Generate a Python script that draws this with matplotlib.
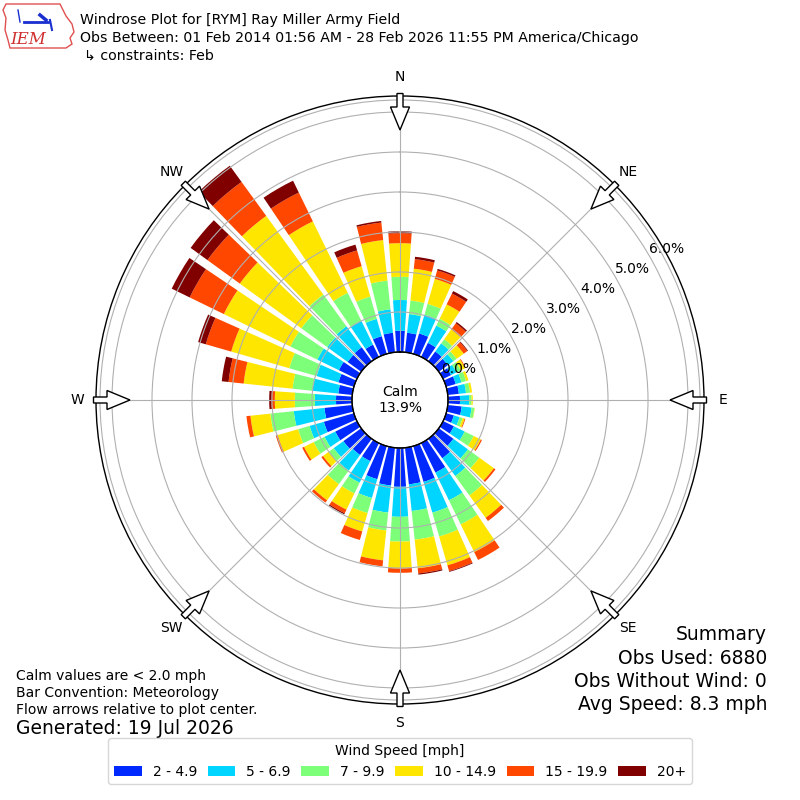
import numpy as np
import matplotlib
matplotlib.use("Agg")
import matplotlib.pyplot as plt
from matplotlib.patches import Patch, FancyArrow, Polygon

# ---------------- data ----------------
directions = list(range(10, 361, 10))
bin_labels = ["2 - 4.9", "5 - 6.9", "7 - 9.9", "10 - 14.9", "15 - 19.9", "20+"]

spd_2_5 = [0.49, 0.53, 0.39, 0.30, 0.28, 0.22, 0.25, 0.28, 0.30, 0.35, 0.20, 0.30,
           0.45, 0.60, 0.82, 0.93, 0.92, 0.97, 0.95, 0.86, 0.50, 0.50, 0.55, 0.60,
           0.78, 0.70, 0.40, 0.35, 0.40, 0.50, 0.42, 0.43, 0.34, 0.46, 0.49, 0.53]
spd_5_7 = [0.47, 0.49, 0.48, 0.25, 0.17, 0.15, 0.15, 0.18, 0.23, 0.25, 0.15, 0.30,
           0.45, 0.55, 0.77, 0.80, 0.67, 0.75, 0.68, 0.49, 0.60, 0.48, 0.30, 0.30,
           0.37, 0.77, 0.53, 0.65, 0.57, 0.60, 0.63, 0.65, 0.67, 0.45, 0.59, 0.77]
spd_7_10 = [0.34, 0.28, 0.19, 0.13, 0.10, 0.12, 0.12, 0.10, 0.06, 0.07, 0.08, 0.25,
            0.35, 0.60, 0.67, 0.62, 0.72, 0.62, 0.45, 0.39, 0.30, 0.42, 0.15, 0.30,
            0.30, 0.59, 0.50, 0.50, 0.71, 0.75, 0.80, 0.98, 0.77, 0.58, 0.72, 0.58]
spd_10_15 = [0.80, 0.65, 0.40, 0.30, 0.22, 0.12, 0.06, 0.05, 0.03, 0.01, 0.05, 0.20,
             0.45, 0.69, 0.77, 0.75, 0.72, 0.67, 0.75, 0.48, 0.45, 0.50, 0.18, 0.27,
             0.53, 0.50, 0.50, 1.23, 1.51, 1.85, 1.90, 2.43, 1.99, 0.79, 1.02, 0.84]
spd_15_20 = [0.24, 0.22, 0.30, 0.19, 0.11, 0.02, 0.00, 0.00, 0.00, 0.00, 0.02, 0.03,
             0.05, 0.10, 0.22, 0.15, 0.13, 0.11, 0.15, 0.22, 0.10, 0.07, 0.05, 0.05,
             0.05, 0.10, 0.08, 0.38, 0.66, 0.95, 1.00, 1.05, 0.80, 0.41, 0.44, 0.25]
spd_20p = [0.06, 0.04, 0.07, 0.04, 0.02, 0.00, 0.00, 0.00, 0.00, 0.00, 0.00, 0.00,
           0.00, 0.00, 0.00, 0.02, 0.03, 0.00, 0.00, 0.00, 0.03, 0.00, 0.00, 0.00,
           0.00, 0.00, 0.06, 0.17, 0.20, 0.50, 0.52, 0.50, 0.33, 0.15, 0.04, 0.05]
series = [spd_2_5, spd_5_7, spd_7_10, spd_10_15, spd_15_20, spd_20p]

calm_pct = 13.9
ring_values = [0, 1, 2, 3, 4, 5, 6]
ring_labels = ["0.0%", "1.0%", "2.0%", "3.0%", "4.0%", "5.0%", "6.0%"]
compass_deg = [0, 45, 90, 135, 180, 225, 270, 315]
compass_labels = ["N", "NE", "E", "SE", "S", "SW", "W", "NW"]

title_lines = ["Windrose Plot for [RYM] Ray Miller Army Field",
               "Obs Between: 01 Feb 2014 01:56 AM - 28 Feb 2026 11:55 PM America/Chicago",
               "\u21b3 constraints: Feb"]
summary_lines = ["Summary", "Obs Used: 6880", "Obs Without Wind: 0", "Avg Speed: 8.3 mph"]
note_lines = ["Calm values are < 2.0 mph", "Bar Convention: Meteorology",
              "Flow arrows relative to plot center."]
generated = "Generated: 19 Jul 2026"

# ---------------- figure ----------------
plt.rcParams['font.family'] = ['DejaVu Sans']
fig = plt.figure(figsize=(8, 8), dpi=100)
fig.patch.set_facecolor("white")

colors = plt.cm.jet(np.linspace(0, 1, 7))[1:]

ax = fig.add_axes([0.12, 0.12, 0.76, 0.76], projection="polar")
ax.set_theta_zero_location("N")
ax.set_theta_direction(-1)
ax.set_rorigin(-1.2)
ax.set_ylim(0, 6.4)

theta = np.deg2rad(directions)
width = np.deg2rad(8.0)
bottom = np.zeros(len(directions))
for vals, col in zip(series, colors):
    v = np.array(vals)
    ax.bar(theta, v, width=width, bottom=bottom, color=col, edgecolor="none",
           align="center", zorder=1)
    bottom = bottom + v

ax.set_rgrids(ring_values + [6.3], ring_labels + [""], fontsize=10)
ax.set_rlabel_position(60)
ax.set_thetagrids(compass_deg, compass_labels, fontsize=10)
ax.tick_params(axis="x", pad=3)
ax.grid(True, color="#b0b0b0", lw=0.8)
ax.spines["polar"].set_color("black")
ax.spines["polar"].set_linewidth(1.0)
tt = np.linspace(0, 2 * np.pi, 361)
ax.plot(tt, np.zeros_like(tt), color="black", lw=1.0, clip_on=False, zorder=5)
ax.text(0.5, 0.5, "Calm\n%.1f%%" % calm_pct, transform=ax.transAxes,
        ha="center", va="center", fontsize=10, zorder=6)

# overlay in pixel coordinates for decorations
ov = fig.add_axes([0, 0, 1, 1], zorder=10)
ov.set_xlim(0, 800)
ov.set_ylim(800, 0)
ov.axis("off")
ov.patch.set_alpha(0)
R_out, R_tip = 306.5, 270.0
for d in compass_deg:
    a = np.deg2rad(d)
    ux, uy = np.sin(a), -np.cos(a)
    x0, y0 = 400 + R_out * ux, 400 + R_out * uy
    L = R_out - R_tip
    ov.add_patch(FancyArrow(x0, y0, -ux * L, -uy * L, width=6, head_width=19,
                            head_length=23, length_includes_head=True,
                            fc="white", ec="black", lw=1.0))

# logo
iowa = [(6, 4), (60, 4), (63, 10), (66, 16), (72, 24), (74, 32), (70, 38),
        (72, 44), (66, 48), (10, 48), (8, 40), (5, 30), (6, 18), (3, 10)]
ov.add_patch(Polygon(iowa, closed=True, fc="white", ec="#e05050", lw=1.0))
ov.plot([24, 48], [22, 22], color="#1a2fd0", lw=2.0)
ov.plot([18, 20], [10, 22], color="#1a2fd0", lw=1.0)
ov.plot([40, 46], [15, 20], color="#1a2fd0", lw=2.5)
ov.plot([50, 52], [20, 30], color="#1a2fd0", lw=1.5)
ov.text(28, 39, "IEM", ha="center", va="center", fontsize=12, color="#d03030",
        family="DejaVu Serif", style="italic")

# titles
for i, line in enumerate(title_lines):
    fig.text(80 / 800 if i < 2 else 84 / 800, 1 - (20 + 18 * i) / 800, line,
             ha="left", va="center", fontsize=10.15)

for i, line in enumerate(summary_lines):
    fig.text(767 / 800, 1 - (635 + 23.3 * i) / 800, line, ha="right", va="center",
             fontsize=13.5)

for i, line in enumerate(note_lines):
    fig.text(16 / 800, 1 - (676 + 17 * i) / 800, line, ha="left", va="center",
             fontsize=10)
fig.text(16 / 800, 1 - 729 / 800, generated, ha="left", va="center", fontsize=13.5)

handles = [Patch(facecolor=c, edgecolor="none") for c in colors]
leg = fig.legend(handles, bin_labels, loc="lower center", ncol=6,
                 bbox_to_anchor=(0.5, 0.011), title="Wind Speed [mph]",
                 fontsize=10, title_fontsize=10, frameon=True,
                 columnspacing=0.75, handlelength=2.0, handletextpad=0.8,
                 borderpad=0.4)
leg.get_frame().set_edgecolor("#cccccc")

fig.savefig("out.png", dpi=100)
